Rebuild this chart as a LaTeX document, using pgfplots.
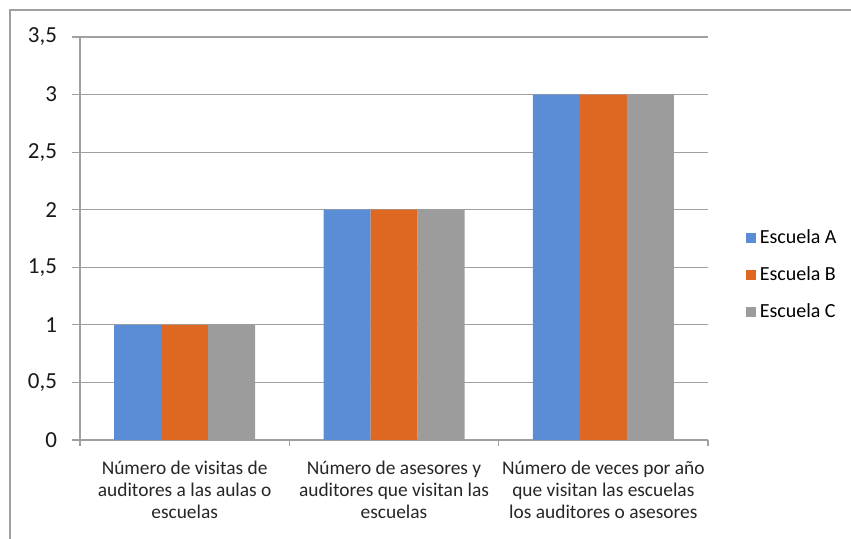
\documentclass[border=0pt]{standalone}
\usepackage{pgfplots}
\pgfplotsset{compat=1.18}
\usepackage{fontspec}
\setmainfont{Carlito}
\definecolor{cA}{HTML}{5B8CD6}
\definecolor{cB}{HTML}{DE6821}
\definecolor{cC}{HTML}{9C9C9C}
\definecolor{ln}{HTML}{A0A0A0}
\begin{document}
\begin{tikzpicture}
\useasboundingbox (0,0) rectangle (425.5pt,269.5pt);
\draw[ln, line width=0.6pt] (5pt,0) -- (5pt,264.5pt) -- (425.5pt,264.5pt);
\begin{axis}[
  at={(40pt,49.5pt)}, anchor=south west,
  scale only axis, width=314pt, height=201.5pt,
  xmin=-0.5, xmax=2.5, ymin=0, ymax=3.5,
  ybar=0pt, bar width=23.5pt,
  axis x line=bottom, axis y line=left,
  axis line style={-, ln, line width=0.6pt},
  ymajorgrids, grid style={ln, line width=0.6pt},
  xtick={0,1,2},
  xticklabels={{Número de visitas de\\auditores a las aulas o\\escuelas},
               {Número de asesores y\\auditores que visitan las\\escuelas},
               {Número de veces por año\\que visitan las escuelas\\los auditores o asesores}},
  xticklabel style={align=center, font=\fontsize{9.7}{11}\selectfont, text=black!85, yshift=-3pt},
  minor xtick={-0.5,0.5,1.5,2.5},
  major x tick style={draw=none},
  minor x tick style={ln, line width=0.6pt},
  minor tick length=3pt,
  ytick={0,0.5,1,1.5,2,2.5,3,3.5},
  major y tick style={ln, line width=0.6pt},
  major tick length=4pt,
  tick align=outside,
  yticklabel style={font=\fontsize{11.5}{12}\selectfont, text=black!90, xshift=-4pt},
  /pgf/number format/assume math mode=true,
  /pgf/number format/use comma,
  /pgf/number format/fixed,
  legend style={at={(1.05,0.41)}, anchor=west, draw=none, font=\fontsize{10}{12}\selectfont,
    row sep=6pt, /tikz/every even column/.append style={column sep=2pt}},
  legend image code/.code={\fill[#1] (0pt,-2.5pt) rectangle (5pt,2.5pt);},
  legend cell align=left,
]
\addplot[fill=cA, draw=none] coordinates {(0,1) (1,2) (2,3)};
\addplot[fill=cB, draw=none] coordinates {(0,1) (1,2) (2,3)};
\addplot[fill=cC, draw=none] coordinates {(0,1) (1,2) (2,3)};
\legend{Escuela A, Escuela B, Escuela C}
\end{axis}
\end{tikzpicture}
\end{document}
